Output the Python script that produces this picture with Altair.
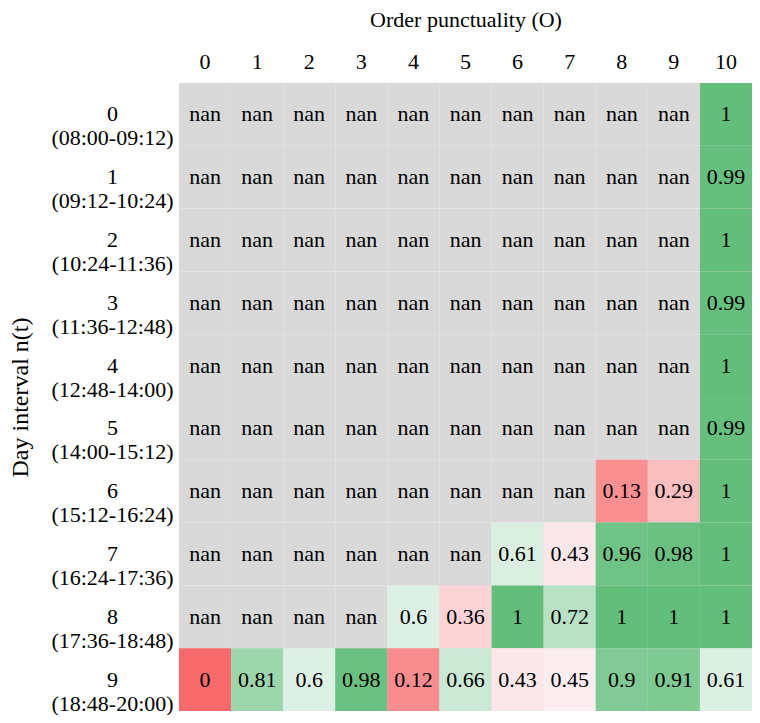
import altair as alt
import pandas as pd

cols = list(range(11))
row_ids = list(range(10))
row_times = ["08:00-09:12", "09:12-10:24", "10:24-11:36", "11:36-12:48", "12:48-14:00",
             "14:00-15:12", "15:12-16:24", "16:24-17:36", "17:36-18:48", "18:48-20:00"]

N = None
values = [
    [N, N, N, N, N, N, N, N, N, N, 1],
    [N, N, N, N, N, N, N, N, N, N, 0.99],
    [N, N, N, N, N, N, N, N, N, N, 1],
    [N, N, N, N, N, N, N, N, N, N, 0.99],
    [N, N, N, N, N, N, N, N, N, N, 1],
    [N, N, N, N, N, N, N, N, N, N, 0.99],
    [N, N, N, N, N, N, N, N, 0.13, 0.29, 1],
    [N, N, N, N, N, N, 0.61, 0.43, 0.96, 0.98, 1],
    [N, N, N, N, 0.6, 0.36, 1, 0.72, 1, 1, 1],
    [0, 0.81, 0.6, 0.98, 0.12, 0.66, 0.43, 0.45, 0.9, 0.91, 0.61],
]

row_labels = [f"{r}|({t})" for r, t in zip(row_ids, row_times)]

records = []
for ri, lab in enumerate(row_labels):
    for c in cols:
        records.append({"row": lab, "col": str(c), "v": values[ri][c]})
df = pd.DataFrame(records)

FONT = "Liberation Serif"
FS = 22

x_enc = alt.X("col:O", sort=[str(c) for c in cols], scale=alt.Scale(paddingInner=0, paddingOuter=0),
              axis=alt.Axis(orient="top", title="Order punctuality (O)", labelAngle=0,
                            domain=False, ticks=False, labelPadding=22, labelBaseline="middle",
                            labelFont=FONT, labelFontSize=FS, labelColor="black",
                            titleFont=FONT, titleFontSize=FS, titleFontWeight="normal",
                            titleColor="black", titleBaseline="middle", titleY=-64))
y_enc = alt.Y("row:O", sort=row_labels, scale=alt.Scale(paddingInner=0, paddingOuter=0),
              axis=alt.Axis(title="Day interval n(t)", domain=False, ticks=False,
                            labelExpr="split(datum.label, '|')", labelAlign="center",
                            labelBaseline="middle", labelPadding=67, labelLineHeight=24,
                            labelFont=FONT, labelFontSize=FS, labelColor="black",
                            titleFont=FONT, titleFontSize=24, titleFontWeight="normal",
                            titleColor="black", titleBaseline="middle", titleX=-159,
                            titleAngle=-90))

base = alt.Chart(df)

bg = base.mark_rect(color="#d9d9d9").encode(x=x_enc, y=y_enc)

colored = base.transform_filter("datum.v != null").mark_rect().encode(
    x=x_enc, y=y_enc,
    color=alt.Color("v:Q", legend=None,
                    scale=alt.Scale(domain=[0, 0.5, 1],
                                    range=["#f8696b", "#fcfcff", "#63be7b"],
                                    interpolate="rgb")),
)

text = base.transform_calculate(
    lab="datum.v == null ? 'nan' : format(datum.v, '.2~f')"
).mark_text(font=FONT, fontSize=FS, color="black", baseline="middle").encode(
    x=x_enc, y=y_enc, text="lab:N"
)

chart = (bg + colored + text).properties(
    width=573, height=628,
    autosize=alt.AutoSizeParams(type="none"),
    padding={"left": 171, "top": 75, "right": 0, "bottom": 4},
).configure_view(stroke=None).configure_text(font=FONT)

chart.save("out.html", embed_options={"renderer": "svg", "actions": False})
